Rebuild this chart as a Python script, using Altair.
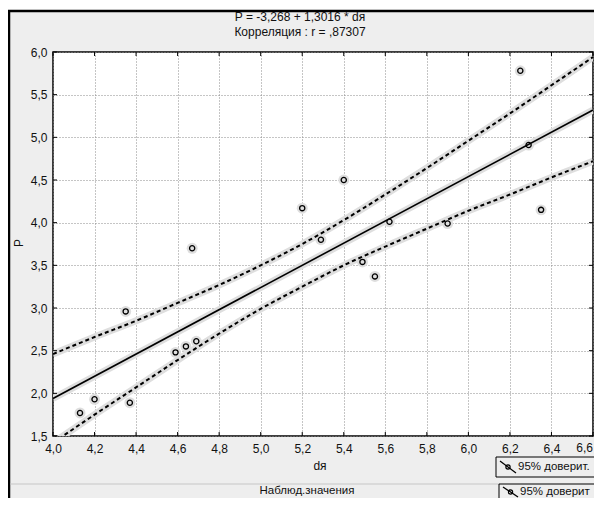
import altair as alt
import pandas as pd

# ---- data ----
x_obs = [4.13, 4.20, 4.35, 4.37, 4.59, 4.64, 4.67, 4.69, 5.20, 5.29,
         5.40, 5.49, 5.55, 5.62, 5.90, 6.25, 6.29, 6.35]
y_obs = [1.77, 1.93, 2.96, 1.89, 2.48, 2.55, 3.70, 2.61, 4.17, 3.80,
         4.50, 3.54, 3.37, 4.01, 3.99, 5.78, 4.91, 4.15]

fit_x = [4.0, 6.6]
fit_y = [1.94, 5.32]

band_x = [4.0, 4.2, 4.4, 4.6, 4.8, 5.0, 5.2, 5.4, 5.6, 5.8, 6.0, 6.2, 6.4, 6.6]
band_upper = [2.46, 2.66, 2.85, 3.06, 3.27, 3.50, 3.75, 4.03, 4.33, 4.64, 4.96, 5.28, 5.61, 5.94]
band_lower = [1.42, 1.75, 2.07, 2.39, 2.70, 2.99, 3.25, 3.50, 3.72, 3.93, 4.14, 4.33, 4.53, 4.72]

x_ticks = [4.0, 4.2, 4.4, 4.6, 4.8, 5.0, 5.2, 5.4, 5.6, 5.8, 6.0, 6.2, 6.4, 6.6]
y_ticks = [1.5, 2.0, 2.5, 3.0, 3.5, 4.0, 4.5, 5.0, 5.5, 6.0]

title_lines = ["P = -3,268 + 1,3016 * dя", "Корреляция : r = ,87307"]
x_title = "dя"
y_title = "P"
legend_label_1 = "95% доверит."
legend_label_2 = "95% доверит"
bottom_label = "Наблюд.значения"

FONT = "Liberation Sans"
W, H = 540, 384
LAST_X = x_ticks[-1]

df_obs = pd.DataFrame({"x": x_obs, "y": y_obs})
df_fit = pd.DataFrame({"x": fit_x, "y": fit_y})
df_up = pd.DataFrame({"x": band_x, "y": band_upper})
df_lo = pd.DataFrame({"x": band_x, "y": band_lower})
df_xt = pd.DataFrame({"x": x_ticks})
df_yt = pd.DataFrame({"y": y_ticks})

lab = "replace(format(datum.value, '.1f'), '.', ',')"
xlab = f"datum.value >= {LAST_X} ? '' : " + lab
X = alt.X("x:Q", scale=alt.Scale(domain=[4.0, 6.6], nice=False, zero=False),
          axis=alt.Axis(values=x_ticks, labelExpr=xlab, title=None, grid=True,
                        gridDash=[1, 2], gridColor="#8a8a8a", gridWidth=1,
                        ticks=False, domain=False, labelPadding=7,
                        labelFontSize=12, labelFont=FONT, labelColor="#111",
                        labelFlush=False))
Y = alt.Y("y:Q", scale=alt.Scale(domain=[1.5, 6.0], nice=False, zero=False),
          axis=alt.Axis(values=y_ticks, labelExpr=lab, title=None, grid=True,
                        gridDash=[1, 2], gridColor="#8a8a8a", gridWidth=1,
                        ticks=False, domain=False, labelPadding=6,
                        labelFontSize=12, labelFont=FONT, labelColor="#111",
                        labelFlush=False))

HALO = "#dedede"

up_halo = alt.Chart(df_up).mark_line(clip=True, color=HALO, strokeWidth=7, interpolate="monotone").encode(x=X, y=Y)
lo_halo = alt.Chart(df_lo).mark_line(clip=True, color=HALO, strokeWidth=7, interpolate="monotone").encode(x=X, y=Y)
fit_halo = alt.Chart(df_fit).mark_line(clip=True, color=HALO, strokeWidth=7).encode(x=X, y=Y)
pt_halo = alt.Chart(df_obs).mark_point(shape="circle", filled=True, color=HALO, size=120, opacity=1).encode(x=X, y=Y)

up_line = alt.Chart(df_up).mark_line(clip=True, color="black", strokeWidth=2, strokeDash=[4, 3], interpolate="monotone").encode(x=X, y=Y)
lo_line = alt.Chart(df_lo).mark_line(clip=True, color="black", strokeWidth=2, strokeDash=[4, 3], interpolate="monotone").encode(x=X, y=Y)
fit_line = alt.Chart(df_fit).mark_line(clip=True, color="black", strokeWidth=1.6).encode(x=X, y=Y)
points = alt.Chart(df_obs).mark_point(shape="circle", filled=False, color="black", size=27, strokeWidth=1.3, opacity=1).encode(x=X, y=Y)

# short inward ticks on the frame edges
tick_top = alt.Chart(df_xt).mark_rule(color="black", strokeWidth=1).encode(x=X, y=alt.value(0), y2=alt.value(4))
tick_bot = alt.Chart(df_xt).mark_rule(color="black", strokeWidth=1).encode(x=X, y=alt.value(H - 4), y2=alt.value(H))
tick_left = alt.Chart(df_yt).mark_rule(color="black", strokeWidth=1).encode(y=Y, x=alt.value(0), x2=alt.value(4))
tick_right = alt.Chart(df_yt).mark_rule(color="black", strokeWidth=1).encode(y=Y, x=alt.value(W - 4), x2=alt.value(W))

one = pd.DataFrame({"a": [0]})


def txt(s, x, y, size=12, angle=0, align="center", baseline="middle"):
    return alt.Chart(one).mark_text(text=s, font=FONT, fontSize=size, color="#111",
                                    align=align, baseline=baseline, angle=angle).encode(
        x=alt.value(x), y=alt.value(y))


def rule(x, x2, y, y2, color="black", w=1):
    enc = {"x": alt.value(x), "y": alt.value(y)}
    if x2 is not None:
        enc["x2"] = alt.value(x2)
    if y2 is not None:
        enc["y2"] = alt.value(y2)
    return alt.Chart(one).mark_rule(color=color, strokeWidth=w).encode(**enc)


def box(x, x2, y, y2):
    return alt.Chart(one).mark_rect(fillOpacity=0, stroke="black", strokeWidth=1).encode(
        x=alt.value(x), x2=alt.value(x2), y=alt.value(y), y2=alt.value(y2))


def dot(x, y):
    return alt.Chart(one).mark_point(shape="circle", filled=False, color="black", size=18,
                                     strokeWidth=1.2, opacity=1).encode(x=alt.value(x), y=alt.value(y))


white_strip = alt.Chart(one).mark_rect(color="white").encode(
    x=alt.value(-46), x2=alt.value(W + 20), y=alt.value(-44), y2=alt.value(-42))

decor = [
    white_strip,
    rule(-46, W + 20, -41, None, "black", 2.5),
    rule(-44, None, -41, 470, "black", 2.5),
    rule(-43, 446, 432, None, "#c6c6c6", 1),
    box(443, 560, 405, 425),
    box(446, 560, 432, 470),
    rule(447, 463, 409, 421, "black", 1.3),
    dot(455, 415),
    rule(450, 465, 435, 445, "black", 1.3),
    dot(457.5, 440),
    txt(title_lines[0], 247, -35),
    txt(title_lines[1], 247, -20),
    txt(x_title, 267, 414),
    txt(bottom_label, 254, 438.5, size=11.5),
    txt(y_title, -34, 191, angle=270),
    txt(legend_label_1, 465, 415, size=11.5, align="left"),
    txt(legend_label_2, 467, 439.5, size=11.5, align="left"),
    txt("6,6", W, H + 7, align="right", baseline="top"),
]

chart = alt.layer(
    pt_halo, up_halo, lo_halo, fit_halo,
    up_line, lo_line, fit_line, points,
    tick_top, tick_bot, tick_left, tick_right,
    *decor
).properties(
    width=W, height=H,
    autosize=alt.AutoSizeParams(type="none"),
    padding={"left": 45, "top": 44, "right": 1, "bottom": 62},
    background="#eeeeee",
).configure_view(
    fill="white", stroke="black", strokeWidth=1.5
)

chart.save("out.html", embed_options={"renderer": "svg", "actions": False})
